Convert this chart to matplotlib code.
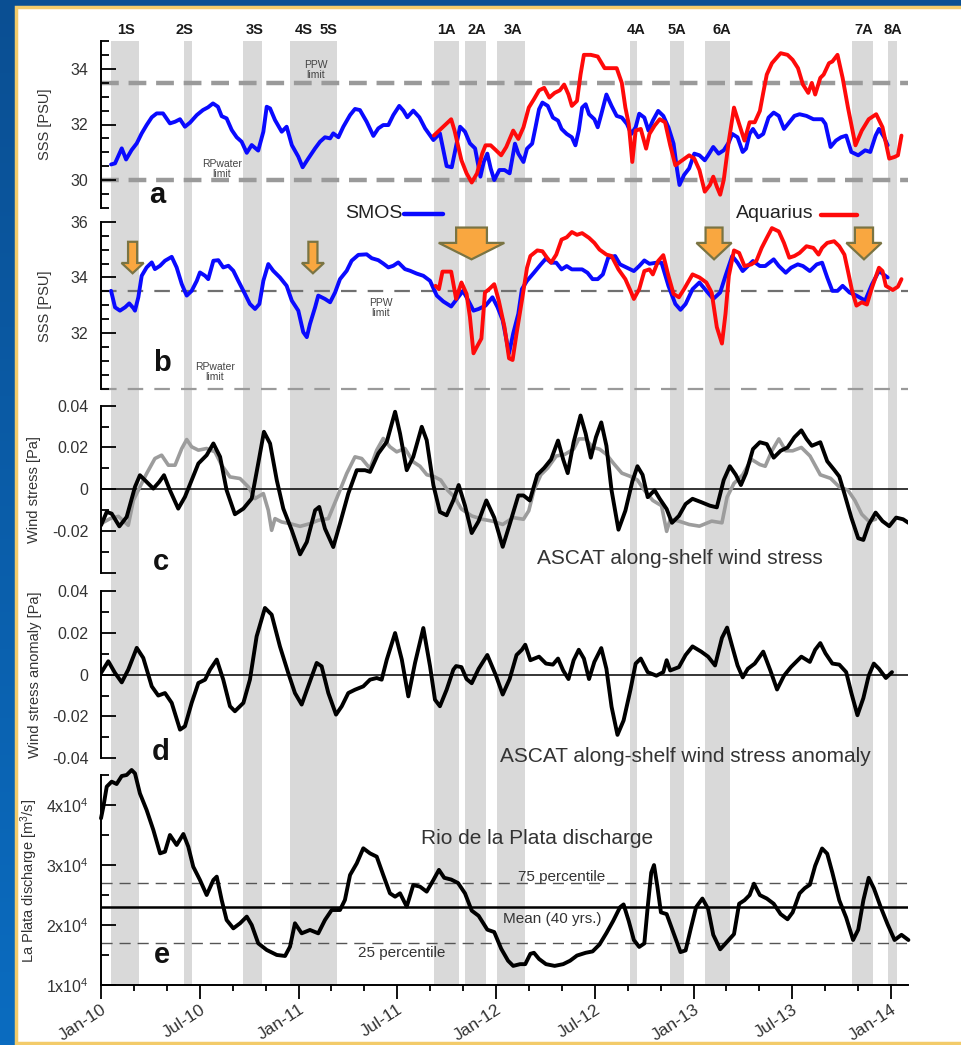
import matplotlib.pyplot as plt
import numpy as np
from matplotlib.patches import Rectangle, Polygon
from matplotlib.lines import Line2D
from matplotlib.colors import LinearSegmentedColormap
import matplotlib.transforms as mtransforms

plt.rcParams['font.family'] = ['Liberation Sans', 'DejaVu Sans']
plt.rcParams['mathtext.fontset'] = 'custom'
plt.rcParams['mathtext.rm'] = 'Liberation Sans'
plt.rcParams['mathtext.it'] = 'Liberation Sans:italic'
plt.rcParams['lines.solid_joinstyle'] = 'round'
plt.rcParams['lines.solid_capstyle'] = 'round'

W_PX, H_PX = 961, 1045
T0, T1 = 2010.0, 2014.086

# event periods (years since Jan 2010)
event_names = ['1S', '2S', '3S', '4S', '5S', '1A', '2A', '3A', '4A', '5A', '6A', '7A', '8A']
event_start = [0.051, 0.420, 0.719, 0.957, 1.078, 1.686, 1.843, 2.005, 2.678, 2.881, 3.058, 3.803, 3.985]
event_end = [0.192, 0.461, 0.815, 1.078, 1.195, 1.813, 1.949, 2.147, 2.714, 2.952, 3.185, 3.909, 4.030]
event_label_t = [0.127, 0.420, 0.780, 1.028, 1.154, 1.747, 1.904, 2.086, 2.709, 2.916, 3.144, 3.863, 4.010]

# (years since Jan 2010, value)
smos_a = [(0.051, 30.56), (0.071, 30.60), (0.105, 31.14), (0.127, 30.74), (0.155, 31.08), (0.181, 31.32),
          (0.206, 31.68), (0.231, 31.98), (0.257, 32.26), (0.282, 32.40), (0.314, 32.40), (0.349, 32.04),
          (0.375, 32.10), (0.400, 32.19), (0.425, 31.92), (0.451, 32.07), (0.485, 32.34), (0.516, 32.52),
          (0.542, 32.62), (0.567, 32.76), (0.592, 32.64), (0.611, 32.30), (0.636, 32.22), (0.662, 31.80),
          (0.687, 31.54), (0.712, 31.38), (0.738, 30.98), (0.763, 31.26), (0.796, 31.06), (0.822, 31.74),
          (0.839, 32.64), (0.856, 32.58), (0.881, 32.16), (0.915, 31.74), (0.940, 31.92), (0.966, 31.26),
          (0.999, 30.84), (1.021, 30.46), (1.050, 30.78), (1.084, 31.14), (1.109, 31.38), (1.134, 31.54),
          (1.160, 31.50), (1.176, 31.68), (1.202, 31.54), (1.227, 31.92), (1.261, 32.34), (1.286, 32.56),
          (1.311, 32.52), (1.345, 32.10), (1.379, 31.59), (1.404, 31.86), (1.429, 31.98), (1.455, 31.98),
          (1.480, 32.34), (1.510, 32.67), (1.531, 32.50), (1.551, 32.26), (1.581, 32.50), (1.612, 32.26),
          (1.641, 31.86), (1.683, 31.44), (1.716, 31.68), (1.750, 30.50), (1.776, 30.46), (1.801, 31.32),
          (1.818, 31.92), (1.843, 31.74), (1.868, 31.32), (1.894, 31.14), (1.921, 30.12), (1.938, 30.65),
          (1.956, 30.95), (1.973, 30.42), (1.991, 30.00), (2.017, 30.36), (2.043, 30.36), (2.069, 30.24),
          (2.096, 31.31), (2.113, 30.95), (2.139, 30.65), (2.157, 31.13), (2.183, 31.31), (2.200, 31.90),
          (2.218, 32.55), (2.235, 32.79), (2.262, 32.67), (2.288, 32.25), (2.314, 32.14), (2.332, 31.84),
          (2.358, 31.66), (2.384, 31.54), (2.402, 31.25), (2.419, 31.78), (2.436, 32.61), (2.454, 32.73),
          (2.471, 32.37), (2.498, 32.19), (2.515, 31.90), (2.533, 32.37), (2.559, 33.08), (2.585, 32.67),
          (2.611, 32.31), (2.637, 32.25), (2.663, 32.02), (2.685, 31.66), (2.707, 31.90), (2.725, 32.39),
          (2.751, 32.25), (2.772, 31.78), (2.794, 32.14), (2.821, 32.49), (2.847, 32.31), (2.873, 31.90),
          (2.899, 31.31), (2.917, 30.36), (2.929, 29.82), (2.952, 30.18), (2.978, 30.42), (3.004, 30.95),
          (3.030, 30.89), (3.057, 30.71), (3.074, 30.89), (3.100, 31.19), (3.127, 30.95), (3.153, 31.07),
          (3.179, 31.36), (3.196, 31.66), (3.223, 31.54), (3.249, 31.01), (3.266, 31.13), (3.284, 31.66),
          (3.301, 31.84), (3.328, 31.54), (3.353, 31.66), (3.380, 32.25), (3.406, 32.43), (3.432, 32.31),
          (3.458, 31.84), (3.485, 32.08), (3.511, 32.31), (3.537, 32.37), (3.572, 32.31), (3.607, 32.19),
          (3.651, 32.19), (3.668, 32.02), (3.694, 31.19), (3.721, 31.42), (3.747, 31.54), (3.773, 31.60),
          (3.799, 31.01), (3.834, 30.89), (3.869, 31.07), (3.895, 31.01), (3.922, 31.60), (3.939, 31.84),
          (3.965, 31.54), (3.983, 31.25)]

aquarius_a = [(1.685, 31.60), (1.773, 32.19), (1.790, 31.78), (1.825, 30.71), (1.851, 30.24), (1.877, 29.91),
              (1.904, 30.24), (1.930, 30.95), (1.947, 31.25), (1.973, 31.25), (2.000, 31.07), (2.026, 30.89),
              (2.052, 31.19), (2.087, 31.78), (2.113, 31.48), (2.139, 31.90), (2.166, 32.61), (2.192, 32.91),
              (2.218, 33.23), (2.244, 33.32), (2.270, 32.97), (2.297, 33.14), (2.323, 33.23), (2.345, 33.44),
              (2.367, 33.08), (2.384, 32.67), (2.410, 32.85), (2.428, 33.80), (2.445, 34.51), (2.480, 34.51),
              (2.515, 34.45), (2.550, 34.03), (2.585, 34.03), (2.611, 34.03), (2.637, 33.50), (2.655, 32.61),
              (2.672, 32.02), (2.690, 30.65), (2.707, 31.78), (2.733, 31.84), (2.760, 31.13), (2.777, 31.66),
              (2.803, 31.96), (2.829, 32.19), (2.856, 32.08), (2.882, 31.25), (2.908, 30.53), (2.943, 30.71),
              (2.978, 30.89), (3.004, 30.77), (3.030, 30.36), (3.057, 29.58), (3.083, 29.82), (3.100, 30.12),
              (3.118, 29.76), (3.135, 29.47), (3.153, 30.00), (3.179, 31.42), (3.205, 32.61), (3.231, 32.02),
              (3.258, 31.42), (3.284, 32.08), (3.310, 32.08), (3.336, 32.49), (3.353, 33.14), (3.371, 33.80),
              (3.397, 34.21), (3.441, 34.57), (3.476, 34.51), (3.502, 34.33), (3.529, 34.03), (3.554, 33.44),
              (3.581, 33.14), (3.599, 33.50), (3.616, 33.08), (3.642, 33.68), (3.659, 33.80), (3.686, 34.21),
              (3.703, 34.27), (3.729, 34.51), (3.755, 33.68), (3.782, 32.61), (3.820, 31.25), (3.852, 31.78),
              (3.887, 32.19), (3.925, 32.37), (3.957, 31.90), (3.991, 30.77), (4.018, 30.83), (4.035, 30.89),
              (4.053, 31.60)]

smos_b = [(0.051, 33.52), (0.071, 32.93), (0.096, 32.81), (0.122, 32.93), (0.143, 33.07), (0.164, 32.90),
          (0.172, 32.81), (0.189, 33.29), (0.206, 34.06), (0.231, 34.36), (0.257, 34.54), (0.273, 34.30),
          (0.299, 34.42), (0.324, 34.60), (0.358, 34.74), (0.383, 34.36), (0.409, 33.76), (0.434, 33.35),
          (0.459, 33.52), (0.485, 33.88), (0.501, 34.18), (0.527, 34.06), (0.543, 33.94), (0.569, 34.60),
          (0.594, 34.62), (0.619, 34.36), (0.645, 34.42), (0.670, 34.24), (0.695, 33.88), (0.721, 33.52),
          (0.754, 33.05), (0.780, 32.87), (0.802, 33.05), (0.822, 33.88), (0.847, 34.48), (0.872, 34.24),
          (0.906, 34.00), (0.940, 33.70), (0.966, 33.17), (0.999, 32.81), (1.024, 32.04), (1.042, 31.86),
          (1.058, 32.33), (1.084, 32.93), (1.100, 33.35), (1.134, 33.23), (1.160, 33.11), (1.185, 33.46),
          (1.210, 33.94), (1.244, 34.24), (1.269, 34.60), (1.303, 34.81), (1.345, 34.83), (1.371, 34.69),
          (1.404, 34.62), (1.429, 34.50), (1.455, 34.36), (1.480, 34.42), (1.505, 34.54), (1.539, 34.30),
          (1.565, 34.24), (1.598, 34.14), (1.632, 34.06), (1.666, 33.88), (1.700, 33.35), (1.733, 33.14),
          (1.773, 32.96), (1.808, 33.29), (1.833, 33.52), (1.860, 33.17), (1.886, 32.81), (1.912, 32.87),
          (1.947, 32.99), (1.982, 33.29), (2.008, 32.93), (2.034, 32.46), (2.066, 31.28), (2.087, 31.99),
          (2.113, 32.70), (2.131, 33.58), (2.157, 33.88), (2.192, 34.17), (2.227, 34.47), (2.253, 34.68),
          (2.279, 34.53), (2.305, 34.53), (2.332, 34.29), (2.358, 34.41), (2.384, 34.29), (2.410, 34.29),
          (2.436, 34.29), (2.463, 34.17), (2.489, 33.94), (2.515, 33.94), (2.541, 34.11), (2.568, 34.71),
          (2.603, 34.77), (2.628, 34.47), (2.663, 34.35), (2.698, 34.23), (2.725, 34.41), (2.751, 34.61),
          (2.777, 34.49), (2.812, 34.53), (2.838, 34.53), (2.873, 33.70), (2.908, 33.05), (2.934, 32.84),
          (2.960, 33.05), (2.995, 33.58), (3.030, 33.82), (3.065, 33.52), (3.100, 33.23), (3.135, 33.46),
          (3.162, 34.06), (3.196, 34.77), (3.223, 34.53), (3.249, 34.23), (3.275, 34.41), (3.301, 34.59),
          (3.336, 34.41), (3.363, 34.41), (3.406, 34.65), (3.432, 34.41), (3.467, 34.17), (3.494, 34.35),
          (3.528, 34.47), (3.554, 34.41), (3.589, 34.23), (3.624, 34.47), (3.651, 34.53), (3.677, 34.00),
          (3.703, 33.52), (3.729, 33.52), (3.755, 33.70), (3.790, 33.46), (3.825, 33.35), (3.869, 33.17),
          (3.904, 33.76), (3.939, 34.23), (3.983, 34.00)]

aquarius_b = [(1.694, 33.70), (1.711, 33.58), (1.729, 34.21), (1.773, 34.21), (1.798, 33.23), (1.825, 33.82),
              (1.851, 33.41), (1.868, 32.58), (1.886, 31.28), (1.903, 31.51), (1.926, 31.81), (1.944, 33.46),
              (1.965, 33.58), (1.991, 33.76), (2.014, 33.17), (2.043, 32.22), (2.066, 31.10), (2.084, 31.04),
              (2.104, 31.99), (2.131, 33.17), (2.157, 34.35), (2.174, 34.77), (2.209, 34.97), (2.235, 34.94),
              (2.258, 34.71), (2.279, 34.53), (2.305, 34.82), (2.332, 35.36), (2.358, 35.44), (2.384, 35.63),
              (2.410, 35.53), (2.436, 35.59), (2.471, 35.42), (2.498, 35.24), (2.524, 35.00), (2.559, 34.82),
              (2.585, 34.77), (2.620, 34.29), (2.655, 33.94), (2.681, 33.52), (2.698, 33.23), (2.725, 33.58),
              (2.751, 34.23), (2.777, 34.29), (2.794, 34.11), (2.821, 34.59), (2.847, 34.80), (2.873, 34.06),
              (2.899, 33.41), (2.926, 33.29), (2.952, 33.58), (2.995, 34.11), (3.030, 34.00), (3.065, 33.82),
              (3.092, 33.46), (3.118, 32.22), (3.144, 31.63), (3.162, 32.70), (3.179, 34.06), (3.205, 34.97),
              (3.231, 34.88), (3.258, 34.41), (3.293, 34.47), (3.318, 34.59), (3.345, 35.06), (3.371, 35.42),
              (3.397, 35.77), (3.432, 35.65), (3.458, 35.24), (3.485, 34.71), (3.511, 34.77), (3.537, 34.88),
              (3.572, 35.12), (3.607, 35.06), (3.633, 34.82), (3.651, 35.06), (3.677, 35.24), (3.712, 35.30),
              (3.738, 35.12), (3.764, 34.82), (3.782, 34.23), (3.803, 33.52), (3.825, 32.99), (3.852, 33.11),
              (3.878, 33.03), (3.904, 33.64), (3.939, 34.35), (3.957, 34.23), (3.974, 33.70), (4.009, 33.55),
              (4.035, 33.67), (4.053, 33.94)]

# along-shelf wind stress [Pa]: black = ASCAT, gray = climatology
wind_black = [(0.000, -0.0173), (0.029, -0.0109), (0.054, -0.0117), (0.093, -0.0178), (0.130, -0.0133),
              (0.172, 0.0011), (0.197, 0.0067), (0.231, 0.0035), (0.265, 0.0003), (0.295, 0.0035),
              (0.319, 0.0067), (0.349, -0.0005), (0.391, -0.0093), (0.425, -0.0037), (0.459, 0.0043),
              (0.493, 0.0123), (0.535, 0.0163), (0.569, 0.0219), (0.603, 0.0155), (0.636, -0.0005),
              (0.678, -0.0120), (0.721, -0.0093), (0.763, -0.0045), (0.796, 0.0123), (0.825, 0.0275),
              (0.856, 0.0219), (0.890, 0.0043), (0.923, -0.0093), (0.966, -0.0197), (1.008, -0.0312),
              (1.042, -0.0253), (1.084, -0.0101), (1.105, -0.0085), (1.134, -0.0189), (1.176, -0.0277),
              (1.210, -0.0165), (1.252, -0.0021), (1.295, 0.0091), (1.337, 0.0091), (1.362, 0.0083),
              (1.404, 0.0171), (1.447, 0.0227), (1.489, 0.0371), (1.514, 0.0267), (1.548, 0.0091),
              (1.581, 0.0155), (1.624, 0.0299), (1.649, 0.0235), (1.683, 0.0019), (1.716, -0.0109),
              (1.750, -0.0125), (1.784, -0.0053), (1.811, 0.0020), (1.843, -0.0079), (1.877, -0.0210),
              (1.912, -0.0153), (1.951, -0.0054), (1.991, -0.0136), (2.034, -0.0276), (2.069, -0.0169),
              (2.113, -0.0030), (2.139, -0.0030), (2.171, -0.0054), (2.209, 0.0069), (2.244, 0.0102),
              (2.279, 0.0143), (2.314, 0.0233), (2.340, 0.0143), (2.363, 0.0077), (2.393, 0.0225),
              (2.428, 0.0353), (2.454, 0.0266), (2.480, 0.0151), (2.506, 0.0249), (2.533, 0.0320),
              (2.559, 0.0208), (2.585, -0.0005), (2.620, -0.0194), (2.655, -0.0103), (2.690, 0.0036),
              (2.716, 0.0110), (2.742, 0.0069), (2.768, -0.0038), (2.803, -0.0005), (2.829, -0.0046),
              (2.864, -0.0095), (2.891, -0.0161), (2.926, -0.0128), (2.960, -0.0071), (2.995, -0.0046),
              (3.039, -0.0062), (3.083, -0.0079), (3.118, -0.0087), (3.153, 0.0044), (3.184, 0.0110),
              (3.214, 0.0069), (3.240, 0.0020), (3.266, 0.0077), (3.301, 0.0192), (3.336, 0.0225),
              (3.371, 0.0216), (3.406, 0.0151), (3.441, 0.0184), (3.476, 0.0200), (3.511, 0.0249),
              (3.546, 0.0282), (3.572, 0.0241), (3.599, 0.0208), (3.642, 0.0225), (3.677, 0.0134),
              (3.712, 0.0093), (3.738, 0.0061), (3.764, -0.0021), (3.799, -0.0136), (3.834, -0.0235),
              (3.860, -0.0243), (3.887, -0.0169), (3.922, -0.0112), (3.957, -0.0153), (3.991, -0.0177),
              (4.026, -0.0136), (4.061, -0.0144), (4.088, -0.0161)]

wind_gray = [(0.000, -0.0165), (0.046, -0.0141), (0.088, -0.0130), (0.138, -0.0173), (0.164, -0.0053),
             (0.197, 0.0011), (0.231, 0.0075), (0.273, 0.0147), (0.307, 0.0163), (0.341, 0.0115),
             (0.375, 0.0115), (0.409, 0.0195), (0.434, 0.0238), (0.459, 0.0203), (0.493, 0.0187),
             (0.535, 0.0195), (0.577, 0.0179), (0.611, 0.0115), (0.653, 0.0059), (0.704, 0.0051),
             (0.746, 0.0011), (0.780, -0.0045), (0.822, -0.0021), (0.847, -0.0101), (0.864, -0.0197),
             (0.881, -0.0141), (0.915, -0.0157), (0.957, -0.0165), (1.008, -0.0178), (1.058, -0.0165),
             (1.100, -0.0149), (1.151, -0.0141), (1.193, -0.0045), (1.244, 0.0075), (1.286, 0.0155),
             (1.320, 0.0147), (1.362, 0.0099), (1.396, 0.0187), (1.429, 0.0243), (1.463, 0.0203),
             (1.497, 0.0179), (1.539, 0.0195), (1.581, 0.0131), (1.615, 0.0110), (1.650, 0.0069),
             (1.685, 0.0061), (1.720, 0.0044), (1.755, -0.0005), (1.790, -0.0038), (1.825, -0.0095),
             (1.877, -0.0128), (1.930, -0.0144), (1.982, -0.0153), (2.034, -0.0169), (2.087, -0.0136),
             (2.139, -0.0144), (2.166, -0.0103), (2.192, -0.0005), (2.227, 0.0069), (2.262, 0.0102),
             (2.305, 0.0159), (2.349, 0.0167), (2.393, 0.0192), (2.419, 0.0241), (2.454, 0.0241),
             (2.489, 0.0200), (2.524, 0.0192), (2.559, 0.0167), (2.593, 0.0126), (2.637, 0.0077),
             (2.681, 0.0061), (2.716, 0.0044), (2.751, -0.0005), (2.794, -0.0054), (2.838, -0.0079),
             (2.864, -0.0202), (2.882, -0.0144), (2.926, -0.0153), (2.978, -0.0169), (3.030, -0.0177),
             (3.092, -0.0153), (3.144, -0.0161), (3.170, -0.0038), (3.205, 0.0028), (3.249, 0.0069),
             (3.293, 0.0143), (3.336, 0.0118), (3.363, 0.0110), (3.397, 0.0184), (3.432, 0.0241),
             (3.467, 0.0184), (3.502, 0.0184), (3.546, 0.0200), (3.590, 0.0159), (3.642, 0.0069),
             (3.694, 0.0052), (3.738, 0.0011), (3.782, -0.0005), (3.817, -0.0054), (3.852, -0.0120),
             (3.887, -0.0153), (3.922, -0.0144)]

wind_anom = [(0.000, 0.0008), (0.037, 0.0064), (0.071, 0.0008), (0.105, -0.0037), (0.138, 0.0024),
             (0.181, 0.0128), (0.214, 0.0080), (0.257, -0.0056), (0.290, -0.0100), (0.324, -0.0088),
             (0.358, -0.0135), (0.400, -0.0263), (0.425, -0.0247), (0.459, -0.0135), (0.493, -0.0040),
             (0.527, -0.0024), (0.552, 0.0024), (0.586, 0.0072), (0.619, -0.0024), (0.653, -0.0151),
             (0.678, -0.0175), (0.721, -0.0135), (0.754, -0.0024), (0.788, 0.0183), (0.830, 0.0319),
             (0.864, 0.0287), (0.906, 0.0135), (0.948, 0.0008), (0.982, -0.0088), (1.016, -0.0143),
             (1.058, -0.0032), (1.092, 0.0056), (1.117, 0.0040), (1.151, -0.0088), (1.190, -0.0191),
             (1.219, -0.0151), (1.252, -0.0088), (1.286, -0.0072), (1.328, -0.0056), (1.362, -0.0024),
             (1.396, -0.0016), (1.421, -0.0024), (1.447, 0.0072), (1.489, 0.0199), (1.523, 0.0072),
             (1.556, -0.0104), (1.590, 0.0056), (1.632, 0.0223), (1.666, 0.0040), (1.691, -0.0120),
             (1.716, -0.0151), (1.750, -0.0072), (1.784, 0.0024), (1.798, 0.0041), (1.825, 0.0036),
             (1.851, -0.0021), (1.877, -0.0041), (1.912, 0.0028), (1.956, 0.0094), (2.000, -0.0005),
             (2.034, -0.0095), (2.069, -0.0021), (2.104, 0.0094), (2.131, 0.0119), (2.148, 0.0143),
             (2.174, 0.0069), (2.218, 0.0086), (2.253, 0.0053), (2.288, 0.0048), (2.314, 0.0077),
             (2.340, 0.0020), (2.367, -0.0021), (2.393, 0.0069), (2.419, 0.0119), (2.445, 0.0077),
             (2.471, -0.0021), (2.498, 0.0061), (2.533, 0.0127), (2.559, 0.0028), (2.585, -0.0153),
             (2.615, -0.0288), (2.646, -0.0219), (2.681, -0.0071), (2.707, 0.0053), (2.733, 0.0077),
             (2.768, 0.0012), (2.812, -0.0005), (2.847, 0.0012), (2.864, 0.0069), (2.882, 0.0020),
             (2.926, 0.0036), (2.960, 0.0094), (2.995, 0.0135), (3.039, 0.0110), (3.074, 0.0086),
             (3.109, 0.0044), (3.144, 0.0176), (3.170, 0.0225), (3.196, 0.0135), (3.223, 0.0044),
             (3.249, -0.0013), (3.275, 0.0028), (3.310, 0.0053), (3.353, 0.0110), (3.389, 0.0020),
             (3.423, -0.0071), (3.458, -0.0005), (3.493, 0.0036), (3.546, 0.0086), (3.589, 0.0061),
             (3.616, 0.0119), (3.642, 0.0151), (3.668, 0.0102), (3.703, 0.0053), (3.738, 0.0048),
             (3.773, 0.0012), (3.799, -0.0087), (3.830, -0.0194), (3.860, -0.0112), (3.887, -0.0005),
             (3.913, 0.0053), (3.939, 0.0028), (3.974, -0.0016), (4.005, 0.0012)]

# Rio de la Plata discharge [m3/s]
discharge = [(0.000, 37790), (0.012, 39730), (0.029, 43060), (0.054, 43890), (0.079, 43500), (0.105, 44830),
             (0.130, 45000), (0.155, 45830), (0.172, 45270), (0.197, 41940), (0.231, 39170), (0.265, 35850),
             (0.299, 31960), (0.324, 32240), (0.349, 35010), (0.383, 33350), (0.417, 35180), (0.442, 33070),
             (0.467, 29740), (0.501, 27530), (0.535, 25030), (0.569, 27530), (0.586, 28080), (0.611, 24200),
             (0.636, 20870), (0.670, 19480), (0.704, 20320), (0.738, 21430), (0.763, 20040), (0.796, 16990),
             (0.839, 15880), (0.890, 15050), (0.932, 14880), (0.957, 16430), (0.982, 20320), (1.016, 18650),
             (1.058, 19210), (1.100, 18650), (1.134, 20870), (1.168, 22530), (1.210, 22530), (1.235, 24200),
             (1.261, 28360), (1.295, 30300), (1.328, 32800), (1.362, 31960), (1.396, 31410), (1.429, 28360),
             (1.463, 25310), (1.489, 24750), (1.514, 25310), (1.548, 23090), (1.581, 26690), (1.615, 26420),
             (1.649, 25590), (1.683, 27530), (1.711, 29210), (1.738, 27890), (1.773, 27600), (1.808, 27020),
             (1.843, 25300), (1.877, 22430), (1.912, 21560), (1.956, 19260), (1.991, 18860), (2.026, 16100),
             (2.061, 14090), (2.087, 13230), (2.122, 13520), (2.148, 13520), (2.174, 15240), (2.192, 15410),
             (2.218, 14380), (2.253, 13520), (2.297, 13230), (2.340, 13520), (2.375, 14090), (2.410, 14950),
             (2.454, 15410), (2.489, 15640), (2.524, 16790), (2.559, 18690), (2.593, 20700), (2.628, 23000),
             (2.646, 23460), (2.672, 20700), (2.698, 17540), (2.725, 16390), (2.751, 16970), (2.768, 23000),
             (2.786, 28750), (2.800, 30010), (2.817, 26450), (2.835, 22140), (2.864, 21850), (2.899, 18690),
             (2.934, 15530), (2.960, 15810), (2.987, 19550), (3.013, 23000), (3.045, 24440), (3.074, 22710),
             (3.100, 18400), (3.135, 15990), (3.170, 17240), (3.205, 18520), (3.231, 23570), (3.258, 24150),
             (3.284, 25010), (3.306, 26910), (3.336, 25010), (3.371, 24440), (3.406, 23570), (3.441, 21850),
             (3.476, 20990), (3.502, 22140), (3.537, 25300), (3.563, 26160), (3.589, 26740), (3.616, 29900),
             (3.651, 32770), (3.677, 31900), (3.703, 28750), (3.738, 24150), (3.773, 21270), (3.808, 17540),
             (3.834, 19260), (3.860, 24150), (3.887, 27890), (3.913, 26160), (3.948, 23000), (3.983, 20130),
             (4.018, 17540), (4.053, 18400), (4.088, 17540)]

PPW_LIMIT = 33.5
RP_LIMIT = 30.0
Q_MEAN, Q_P75, Q_P25 = 23000, 27000, 17000

# down arrows in panel b: (centre year offset, top, head base, tip, shaft half-width, head half-width)
arrows = [(0.160, 35.28, 34.52, 34.15, 0.023, 0.056),
          (1.073, 35.28, 34.52, 34.15, 0.023, 0.056),
          (1.876, 35.79, 35.24, 34.65, 0.078, 0.166),
          (3.104, 35.79, 35.24, 34.65, 0.043, 0.089),
          (3.863, 35.79, 35.24, 34.65, 0.046, 0.089)]

tick_names = ['Jan-10', 'Jul-10', 'Jan-11', 'Jul-11', 'Jan-12', 'Jul-12', 'Jan-13', 'Jul-13', 'Jan-14']


def fx(px):
    return px / W_PX


def fy(py):
    return 1 - py / H_PX


def series(pairs):
    arr = np.array(pairs, dtype=float)
    return T0 + arr[:, 0], arr[:, 1]


def panel(top, bottom):
    return fig.add_axes([fx(101), fy(bottom), fx(908) - fx(101), (bottom - top) / H_PX], zorder=2)


def style(ax, ylim, major, minor, labels=None):
    ax.set_xlim(T0, T1)
    ax.set_ylim(*ylim)
    ax.patch.set_visible(False)
    for s in ['top', 'right', 'bottom']:
        ax.spines[s].set_visible(False)
    ax.spines['left'].set_linewidth(1.4)
    ax.set_yticks(major)
    ax.set_yticks(minor, minor=True)
    if labels is not None:
        ax.set_yticklabels(labels)
    ax.tick_params(axis='y', which='major', direction='in', length=11, width=1.3,
                   labelsize=11.5, labelcolor='#333333', pad=9)
    ax.tick_params(axis='y', which='minor', direction='in', length=6, width=1.3)
    ax.tick_params(axis='x', which='both', bottom=False, labelbottom=False)


def down_arrow(ax, t, top, base, tip, sw, hw):
    pts = [(t - sw, top), (t + sw, top), (t + sw, base), (t + hw, base), (t, tip),
           (t - hw, base), (t - sw, base)]
    ax.add_patch(Polygon(pts, closed=True, fc='#F9A740', ec='#7A7443', lw=1.6, zorder=6))


fig = plt.figure(figsize=(9.61, 10.45), dpi=100)

# slide-like frame
bg = fig.add_axes([0, 0, 1, 1], zorder=-3)
grad = np.linspace(0, 1, 256).reshape(-1, 1)
bg.imshow(grad, extent=[0, 1, 0, 1], aspect='auto',
          cmap=LinearSegmentedColormap.from_list('bl', ['#0A4F93', '#0B6CC0']))
bg.add_patch(Rectangle((fx(16), fy(1043)), 1 - fx(16) + 0.01, fy(7) - fy(1043),
                       fc='white', ec='#F3CB6A', lw=2.5))
bg.set_xlim(0, 1)
bg.set_ylim(0, 1)
bg.axis('off')

# event bars across all panels
bars = fig.add_axes([fx(101), fy(985), fx(908) - fx(101), (985 - 41) / H_PX], zorder=-1)
bars.set_xlim(T0, T1)
bars.set_ylim(0, 1)
bars.axis('off')
for s, e in zip(event_start, event_end):
    bars.axvspan(T0 + s, T0 + e, color='#D9D9D9', lw=0)

trans_lab = mtransforms.blended_transform_factory(bars.transData, fig.transFigure)
for name, t in zip(event_names, event_label_t):
    fig.text(T0 + t, fy(30), name, transform=trans_lab, ha='center', va='center',
             fontsize=10.5, fontweight='bold', color='#1a1a1a',
             family=['Liberation Sans Narrow', 'Liberation Sans'])

# panel a
ax_a = panel(41.25, 207.75)
style(ax_a, (29, 35), [30, 32, 34], np.arange(29, 35.01, 0.5))
for lim in [PPW_LIMIT, RP_LIMIT]:
    ax_a.axhline(lim, color='#9A9A9A', lw=3.2, dashes=(4, 2.2), zorder=1)
t, v = series(smos_a)
ax_a.plot(t, v, color='#0A0AFF', lw=2.8, zorder=3)
t, v = series(aquarius_a)
ax_a.plot(t, v, color='#FF0A0A', lw=2.8, zorder=4)

# panel b
ax_b = panel(221.7, 389)
style(ax_b, (30, 36), [32, 34, 36], np.arange(30, 36.01, 0.5))
ax_b.axhline(PPW_LIMIT, color='#707070', lw=1.6, dashes=(7, 5), zorder=1)
ax_b.axhline(RP_LIMIT, color='#9A9A9A', lw=1.6, dashes=(7, 5), zorder=1, clip_on=False)
t, v = series(smos_b)
ax_b.plot(t, v, color='#0A0AFF', lw=2.8, zorder=3)
t, v = series(aquarius_b)
ax_b.plot(t, v, color='#FF0A0A', lw=2.8, zorder=4)
for t0, top, base, tip, sw, hw in arrows:
    down_arrow(ax_b, T0 + t0, top, base, tip, sw, hw)

# panel c
ax_c = panel(405.7, 572.7)
style(ax_c, (-0.04, 0.04), [-0.04, -0.02, 0, 0.02, 0.04], np.arange(-0.04, 0.041, 0.01),
      ['', '-0.02', '0', '0.02', '0.04'])
ax_c.axhline(0, color='black', lw=1.1, zorder=1)
t, v = series(wind_gray)
ax_c.plot(t, v, color='#9C9C9C', lw=2.6, zorder=2)
t, v = series(wind_black)
ax_c.plot(t, v, color='black', lw=2.8, zorder=3)

# panel d
ax_d = panel(591, 758.3)
style(ax_d, (-0.04, 0.04), [-0.04, -0.02, 0, 0.02, 0.04], np.arange(-0.04, 0.041, 0.01),
      ['-0.04', '-0.02', '0', '0.02', '0.04'])
ax_d.axhline(0, color='black', lw=1.1, zorder=1)
t, v = series(wind_anom)
ax_d.plot(t, v, color='black', lw=2.8, zorder=3)

# panel e
ax_e = panel(775, 985.3)
style(ax_e, (10000, 45000), [10000, 20000, 30000, 40000], np.arange(10000, 45001, 5000),
      [r'1x10$^4$', r'2x10$^4$', r'3x10$^4$', r'4x10$^4$'])
ax_e.axhline(Q_MEAN, color='black', lw=1.8, zorder=1)
for q in [Q_P75, Q_P25]:
    ax_e.axhline(q, color='#555555', lw=1.0, dashes=(8, 5), zorder=1)
t, v = series(discharge)
ax_e.plot(t, v, color='black', lw=2.8, zorder=3, clip_on=False)
ax_e.spines['bottom'].set_visible(True)
ax_e.spines['bottom'].set_linewidth(1.4)
ax_e.set_xticks(T0 + np.arange(0, 4.01, 0.5))
ax_e.set_xticks(T0 + np.arange(0, 4.09, 1 / 6), minor=True)
ax_e.set_xticklabels(tick_names)
ax_e.tick_params(axis='x', which='major', bottom=True, labelbottom=True, direction='out',
                 length=10, width=1.3, labelsize=12.5, labelcolor='#333333', pad=2)
ax_e.tick_params(axis='x', which='minor', bottom=True, direction='out', length=4.5, width=1.3)
for lab in ax_e.get_xticklabels():
    lab.set_rotation(33)
    lab.set_ha('right')
    lab.set_va('top')
    lab.set_rotation_mode('anchor')

# y labels
ylab = dict(rotation=90, ha='center', va='center', fontsize=10.5, color='#333333')
fig.text(fx(45), fy(124), 'SSS [PSU]', **ylab)
fig.text(fx(45), fy(306), 'SSS [PSU]', **ylab)
fig.text(fx(34), fy(490), 'Wind stress [Pa]', **ylab)
fig.text(fx(35), fy(675), 'Wind stress anomaly [Pa]', **ylab)
fig.text(fx(29), fy(881), 'La Plata discharge [m$^3$/s]', **ylab)

# panel letters
for letter, px, py in [('a', 157, 203), ('b', 162, 371), ('c', 161, 570), ('d', 161, 760), ('e', 162, 963)]:
    fig.text(fx(px), fy(py), letter, ha='center', va='baseline', fontsize=21,
             fontweight='bold', color='#111111')

# legend-like labels
fig.text(fx(402), fy(213), 'SMOS', ha='right', va='center', fontsize=14, color='#222222')
fig.add_artist(Line2D([fx(404), fx(443)], [fy(214), fy(214)], color='#0A0AFF', lw=3.2))
fig.text(fx(736), fy(213), 'Aquarius', ha='left', va='center', fontsize=14, color='#222222')
fig.add_artist(Line2D([fx(821), fx(857)], [fy(215), fy(215)], color='#FF0A0A', lw=3.2))

small = dict(ha='center', va='center', fontsize=7.5, color='#444444', linespacing=1.0)
fig.text(fx(316), fy(70), 'PPW\nlimit', **small)
fig.text(fx(222), fy(169), 'RPwater\nlimit', **small)
fig.text(fx(381), fy(308), 'PPW\nlimit', **small)
fig.text(fx(215), fy(372), 'RPwater\nlimit', **small)

big = dict(ha='center', va='center', fontsize=15, color='#333333')
fig.text(fx(680), fy(558), 'ASCAT along-shelf wind stress', **big)
fig.text(fx(685), fy(756), 'ASCAT along-shelf wind stress anomaly', **big)
fig.text(fx(537), fy(838), 'Rio de la Plata discharge', **big)

pct = dict(ha='center', va='center', fontsize=11, color='#333333')
fig.text(fx(562), fy(877), '75 percentile', **pct)
fig.text(fx(552), fy(919), 'Mean (40 yrs.)', **pct)
fig.text(fx(402), fy(953), '25 percentile', **pct)

plt.savefig('out.png', dpi=100)
